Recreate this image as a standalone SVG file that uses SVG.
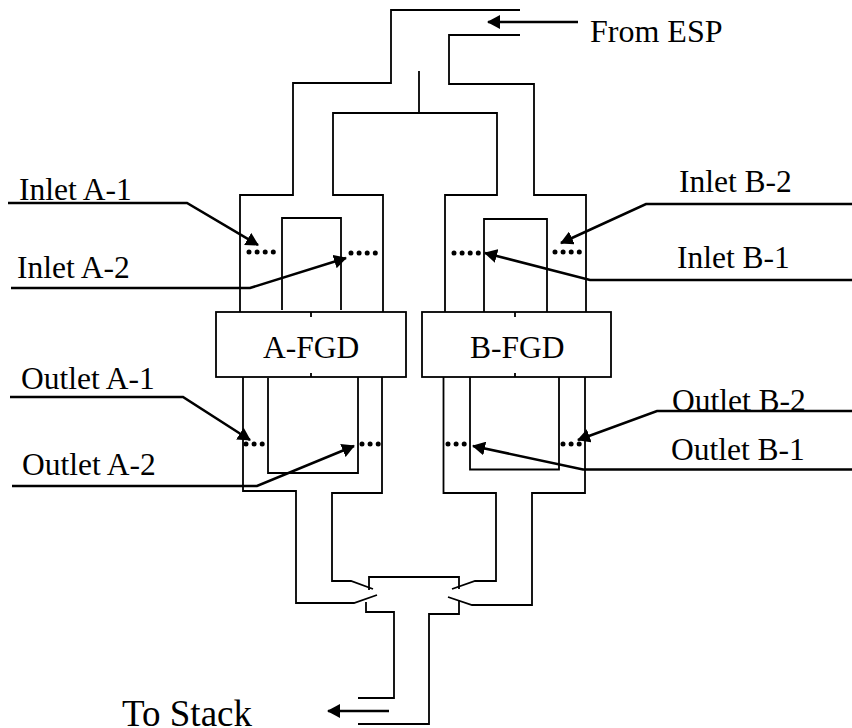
<svg xmlns="http://www.w3.org/2000/svg" width="852" height="728" viewBox="0 0 852 728">
<style>
text{font-family:"Liberation Serif","Times New Roman",serif;font-size:31.500px;fill:#000}
.d{fill:none;stroke:#000;stroke-width:1.800}
.l{fill:none;stroke:#000;stroke-width:2.600}
.dots{fill:none;stroke:#000;stroke-width:5;stroke-linecap:round;stroke-dasharray:0 8.100}
.box{fill:#fff;stroke:#000;stroke-width:1.800}
</style>
<defs>
<marker id="ah" markerUnits="userSpaceOnUse" markerWidth="14" markerHeight="14" refX="12" refY="7" orient="auto"><path d="M0 0L13 7L0 14Z" fill="#000"/></marker>
</defs>
<rect width="852" height="728" fill="#fff"/>
<g id="ducts">
<path class="d" d="M520 10H391V83H293V195H240V312"/>
<path class="d" d="M383 312V195H333V113H497V195H445V312"/>
<path class="d" d="M520 35H449V84H534V195H586V312"/>
<path class="d" d="M419 71V112"/>
<path class="d" d="M282 310V218H341V310"/>
<path class="d" d="M484 312V219H547V312"/>
<path class="d" d="M243 376V491H296V603H354L377 595"/>
<path class="d" d="M382 377V493H332V581H351L373 589"/>
<path class="d" d="M268 378V473H358V377"/>
<path class="d" d="M585 377V493H532V605H472L448 597"/>
<path class="d" d="M443.500 377V493H496V581H475L452 589"/>
<path class="d" d="M470 377V469.500H559V377"/>
<path class="d" d="M369 590V577H459V589"/>
<path class="d" d="M366 602V612H394V698H358"/>
<path class="d" d="M459 600V614H429V724H358"/>
</g>
<g id="A-FGD">
<rect class="box" x="216" y="312" width="190" height="65"/>
<path class="d" d="M311 312V317M311 373V377"/>
<text x="263" y="358">A-FGD</text>
</g>
<g id="B-FGD">
<rect class="box" x="422" y="312" width="189" height="65"/>
<path class="d" d="M515 312V317M515 373V377"/>
<text x="470" y="358">B-FGD</text>
</g>
<g id="dampers">
<path class="dots" d="M249 252H276"/>
<path class="dots" d="M351 253H378"/>
<path class="dots" d="M454 253H481"/>
<path class="dots" d="M555 252H582"/>
<path class="dots" d="M246 444H265"/>
<path class="dots" d="M362 444H380"/>
<path class="dots" d="M448 444H467"/>
<path class="dots" d="M563 444H582"/>
</g>
<g id="connectors">
<path class="l" d="M578 22H488" marker-end="url(#ah)"/>
<path class="l" d="M389 711H328" marker-end="url(#ah)"/>
<path class="l" d="M8 203H187L258 245" marker-end="url(#ah)"/>
<path class="l" d="M11 288H250L346 258" marker-end="url(#ah)"/>
<path class="l" d="M852 204H646L561 243" marker-end="url(#ah)"/>
<path class="l" d="M852 280H590L485 253" marker-end="url(#ah)"/>
<path class="l" d="M10 397H183L250 440" marker-end="url(#ah)"/>
<path class="l" d="M12 486H257L354 446" marker-end="url(#ah)"/>
<path class="l" d="M852 411H657L578 440" marker-end="url(#ah)"/>
<path class="l" d="M852 469.500H583L473 446" marker-end="url(#ah)"/>
</g>
<g id="labels">
<text x="590" y="42" style="font-size:32px">From ESP</text>
<text x="19" y="200">Inlet A-1</text>
<text x="17" y="278">Inlet A-2</text>
<text x="679" y="192">Inlet B-2</text>
<text x="677" y="268">Inlet B-1</text>
<text x="21" y="389">Outlet A-1</text>
<text x="22" y="475">Outlet A-2</text>
<text x="672" y="411">Outlet B-2</text>
<text x="671" y="460">Outlet B-1</text>
<text x="122" y="726" style="font-size:37px">To Stack</text>
</g>
</svg>
